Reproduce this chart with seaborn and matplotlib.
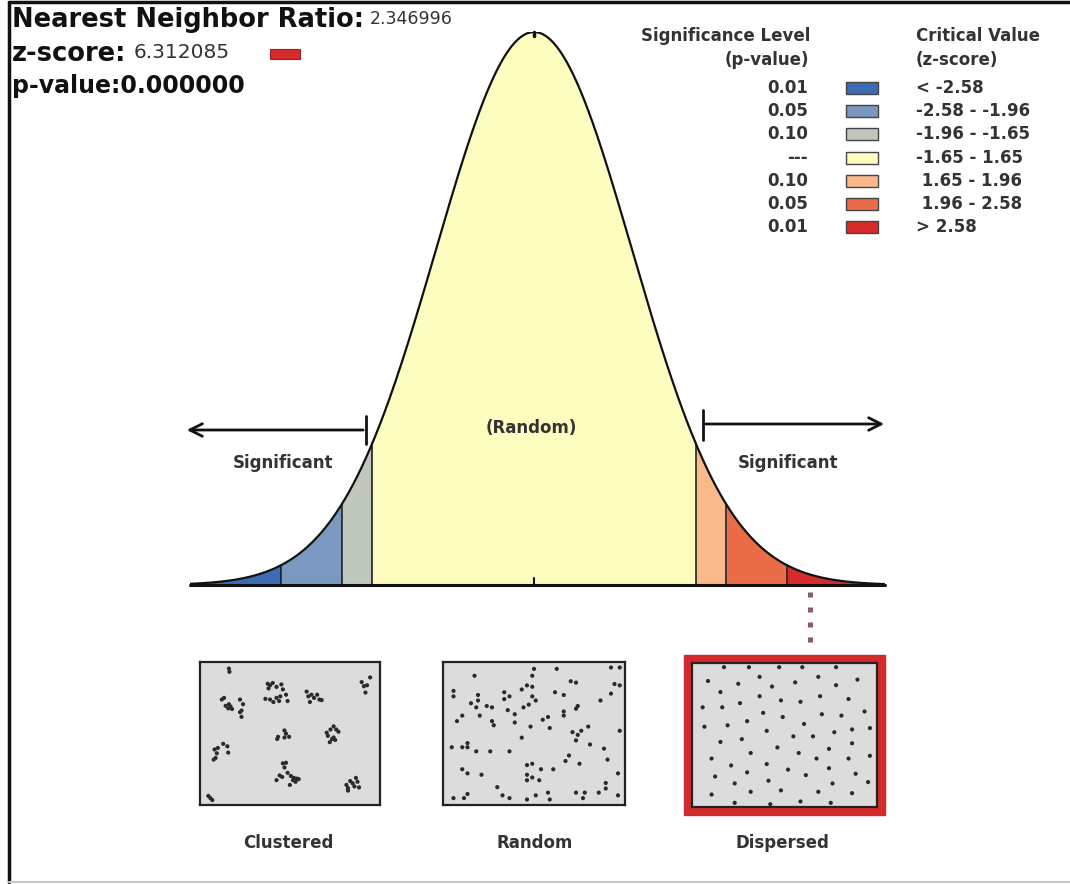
import numpy as np
import matplotlib
matplotlib.use("Agg")
import matplotlib.pyplot as plt
from matplotlib.patches import Rectangle
import seaborn as sns

# ---- data ----
nn_ratio = "2.346996"
z_score = "6.312085"
p_value = "0.000000"

cuts = [-2.58, -1.96, -1.65, 1.65, 1.96, 2.58]
band_colors = ["#3c6db4", "#7b99c0", "#c0c7bc", "#fdfdc0", "#f9b98b", "#eb6c49", "#d62a2b"]
sig_levels = ["0.01", "0.05", "0.10", "---", "0.10", "0.05", "0.01"]
crit_labels = ["< -2.58", "-2.58 - -1.96", "-1.96 - -1.65", "-1.65 - 1.65",
               " 1.65 - 1.96", " 1.96 - 2.58", "> 2.58"]
box_titles = ["Clustered", "Random", "Dispersed"]

# point patterns (0-100 box units)
clustered_x = [14.7, 15.0, 10.6, 11.9, 12.8, 14.3, 15.6, 16.5, 14.7, 21.1, 22.9, 22.0, 22.0, 21.1,
               37.1, 38.5, 40.0, 37.6, 42.2, 45.0, 45.9, 35.8, 38.5, 40.4, 42.2, 43.7, 47.7, 48.6, 44.4,
               59.6, 60.6, 61.5, 63.9, 65.7, 67.0, 68.3, 62.4, 91.4, 92.7, 94.5, 93.6, 96.3,
               42.6, 43.1, 46.8, 47.7, 49.5, 46.8, 71.2, 71.9, 73.4, 75.2, 76.7, 78.0, 75.2, 76.1, 73.0, 74.3,
               6.4, 8.3, 11.4, 13.8, 14.3, 7.7, 7.0, 5.9,
               45.9, 47.7, 46.8, 44.0, 45.5, 42.2, 48.6, 50.5, 52.3, 53.2, 51.7, 54.1, 49.9, 55.0,
               82.6, 83.5, 84.8, 86.2, 88.1, 89.0, 87.2, 89.9, 83.5, 2.8, 4.0, 5.1]
clustered_y = [2.8, 5.1, 25.3, 24.1, 29.9, 31.7, 30.3, 32.2, 28.7, 25.3, 28.7, 33.3, 37.9, 34.5,
               13.8, 14.9, 13.3, 17.2, 16.1, 14.3, 17.9, 24.8, 25.3, 27.1, 24.1, 26.4, 21.8, 26.4, 23.0,
               19.5, 23.0, 27.1, 24.1, 21.8, 25.3, 25.7, 21.8, 12.6, 15.6, 14.9, 20.2, 9.2,
               54.0, 52.4, 47.8, 50.1, 52.4, 52.9, 49.4, 51.7, 47.1, 44.8, 47.1, 48.7, 52.9, 54.7, 56.3, 54.0,
               61.6, 60.5, 57.5, 59.3, 63.9, 64.4, 67.8, 69.0,
               71.7, 71.3, 74.7, 80.5, 81.6, 83.9, 78.6, 80.9, 82.3, 85.1, 83.9, 82.8, 87.4, 83.2,
               87.4, 89.7, 84.6, 86.2, 82.3, 85.1, 88.5, 89.2, 91.5, 95.4, 97.0, 98.4]

random_x = [16, 50, 63, 94, 99, 49, 71, 74, 96, 99, 94, 4, 4, 33, 36, 33, 43, 46, 49, 49, 51, 62, 67,
            18, 18, 14, 17, 23, 26, 35, 44, 47, 75, 74, 67, 67, 88, 9, 6, 19, 26, 27, 39, 39, 55, 58,
            59, 48, 43, 72, 75, 77, 74, 81, 82, 99, 3, 9, 12, 12, 17, 25, 36, 70, 68, 76, 90, 92, 98,
            9, 12, 20, 46, 49, 54, 61, 46, 49, 53, 46, 29, 58, 74, 79, 87, 91, 91, 4, 10, 12, 32, 36,
            46, 51, 59, 78, 98]
random_y = [8, 3, 3, 2, 2, 8, 12, 13, 14, 15, 21, 19, 23, 20, 23, 25, 18, 15, 16, 23, 26, 20, 22,
            22, 26, 28, 31, 30, 31, 33, 31, 29, 30, 32, 34, 37, 26, 37, 41, 37, 41, 44, 36, 42, 40, 38,
            46, 45, 53, 49, 51, 48, 55, 45, 58, 48, 60, 60, 60, 57, 63, 63, 63, 66, 70, 72, 61, 69, 79,
            76, 79, 80, 73, 72, 76, 76, 80, 82, 84, 84, 89, 93, 93, 93, 93, 86, 90, 97, 97, 94, 95, 97,
            98, 95, 98, 97, 95]

dispersed_x = [16, 30, 47, 60, 79, 7, 24, 36, 43, 56, 69, 79, 91, 14, 25, 36, 48, 59, 70, 86,
               4, 15, 38, 49, 71, 82, 95, 29, 61, 5, 18, 40, 55, 66, 78, 88, 98, 14, 26, 46, 75, 88,
               31, 58, 68, 86, 9, 20, 40, 52, 75, 90, 98, 11, 29, 62, 41, 22, 77, 97, 9, 31, 48, 69,
               88, 22, 42, 59, 76]
dispersed_y = [1, 1, 1, 1, 1, 11, 13, 8, 15, 12, 8, 14, 10, 19, 27, 22, 25, 26, 22, 24,
               30, 30, 34, 37, 35, 36, 33, 40, 42, 44, 43, 47, 51, 51, 48, 46, 45, 55, 53, 59, 60, 56,
               63, 63, 67, 67, 67, 72, 71, 75, 74, 78, 65, 80, 77, 79, 83, 85, 85, 84, 93, 91, 90, 91,
               92, 99, 100, 98, 99]

# ---- figure ----
sns.set_style("white")
plt.rcParams["font.family"] = ["DejaVu Sans"]
W, H = 1070, 884
fig = plt.figure(figsize=(W / 100, H / 100), dpi=100)

# normal curve axes: centre at x=534px, 98 px per z unit, baseline y=585px, runs 190..885px
cx0, scale = 534, 98.0
left_px, right_px = 190, 885
peak_y, base_y = 32, 585
zlo, zhi = (left_px - cx0) / scale, (right_px - cx0) / scale
ax = fig.add_axes([left_px / W, (H - base_y) / H, (right_px - left_px) / W, (base_y - peak_y) / H])
z = np.linspace(zlo, zhi, 1441)
pdf = np.exp(-z ** 2 / 2) / np.sqrt(2 * np.pi)
edges = [zlo] + cuts + [zhi]
for lo, hi, col in zip(edges[:-1], edges[1:], band_colors):
    m = (z >= lo - 1e-9) & (z <= hi + 1e-9)
    ax.fill_between(z[m], 0, pdf[m], color=col, linewidth=0)
for c in cuts:
    ax.plot([c, c], [0, np.exp(-c ** 2 / 2) / np.sqrt(2 * np.pi)], color="#111", lw=1.1)
sns.lineplot(x=z, y=pdf, ax=ax, color="#111", lw=1.6)
ax.axhline(0, color="#111", lw=2.2, clip_on=False)
ax.plot([0, 0], [0, 0.005], color="#111", lw=1.5)
top = 1 / np.sqrt(2 * np.pi)
ax.plot([0, 0], [top - 0.003, top], color="#111", lw=2.5, clip_on=False)
ax.set_xlim(zlo, zhi)
ax.set_ylim(0, top)
ax.axis("off")

# overlay in pixel coordinates for text and decorations
ov = fig.add_axes([0, 0, 1, 1])
ov.set_xlim(0, W)
ov.set_ylim(H, 0)
ov.set_facecolor("none")
ov.axis("off")

# frame
ov.plot([9, 9], [2, 882], color="#111", lw=2.5)
ov.plot([9, W], [2, 2], color="#111", lw=2.5)
ov.plot([9, W], [882, 882], color="#c8c8c8", lw=1.5)

# top-left statistics
lab = dict(fontweight="bold", color="#111", va="center", ha="left")
ov.text(12, 20, "Nearest Neighbor Ratio:", fontsize=18.5, **lab)
ov.text(370, 19, nn_ratio, fontsize=12.5, color="#333", va="center", ha="left")
ov.text(12, 54, "z-score:", fontsize=18.5, **lab)
ov.text(134, 53, z_score, fontsize=14.5, color="#333", va="center", ha="left")
ov.add_patch(Rectangle((270, 49), 30, 10, facecolor=band_colors[-1], edgecolor="#a02020", lw=0.8))
ov.text(12, 86, "p-value:" + p_value, fontsize=17, **lab)

# legend
lg = dict(fontsize=12, fontweight="bold", color="#333", va="center")
ov.text(810, 36, "Significance Level", ha="right", **lg)
ov.text(809, 60, "(p-value)", ha="right", **lg)
ov.text(916, 36, "Critical Value", ha="left", **lg)
ov.text(916, 60, "(z-score)", ha="left", **lg)
row_y = 88
for sl, cl, col in zip(sig_levels, crit_labels, band_colors):
    ov.text(808, row_y, sl, ha="right", **lg)
    ov.add_patch(Rectangle((846, row_y - 6), 32, 12, facecolor=col, edgecolor="#444", lw=1))
    ov.text(916, row_y, cl, ha="left", **lg)
    row_y += 23.2

# arrows and region labels
arr = dict(arrowstyle="->,head_length=0.9,head_width=0.45", lw=2, color="#111")
ov.annotate("", xy=(184, 430), xytext=(366, 430), arrowprops=arr)
ov.plot([366, 366], [416, 444], color="#111", lw=2)
ov.annotate("", xy=(887, 424), xytext=(703, 424), arrowprops=arr)
ov.plot([703, 703], [410, 440], color="#111", lw=2)
ov.text(283, 463, "Significant", ha="center", **lg)
ov.text(788, 463, "Significant", ha="center", **lg)
ov.text(531, 428, "(Random)", ha="center", **lg)

# link from observed z-score to the dispersed pattern
ov.plot([810, 810], [592, 652], color="#8c5a6e", lw=3.6, ls=(0, (1, 2)), dash_capstyle="butt")
ov.add_patch(Rectangle((684, 655), 201, 160, facecolor="#d42a2b", edgecolor="#c03030", lw=1))

# sample point-pattern boxes
boxes = [(200, 662, 180, 143), (443, 662, 182, 143), (692, 663, 185, 144)]
patterns = [(clustered_x, clustered_y), (random_x, random_y), (dispersed_x, dispersed_y)]
centers = [288, 535, 782]
for (bx, by, bw, bh), (px, py), title, cx in zip(boxes, patterns, box_titles, centers):
    bax = fig.add_axes([bx / W, (H - by - bh) / H, bw / W, bh / H])
    bax.set_facecolor("#dcdcdc")
    sns.scatterplot(x=px, y=py, ax=bax, color="#2a2a2a", s=9, edgecolor="none", linewidth=0)
    bax.set_xlim(-2, 102)
    bax.set_ylim(102, -2)
    bax.set_xticks([])
    bax.set_yticks([])
    for sp in bax.spines.values():
        sp.set_visible(True)
        sp.set_color("#222")
        sp.set_linewidth(1.6)
    ov.text(cx, 843, title, ha="center", **lg)

fig.savefig("out.png", dpi=100)
